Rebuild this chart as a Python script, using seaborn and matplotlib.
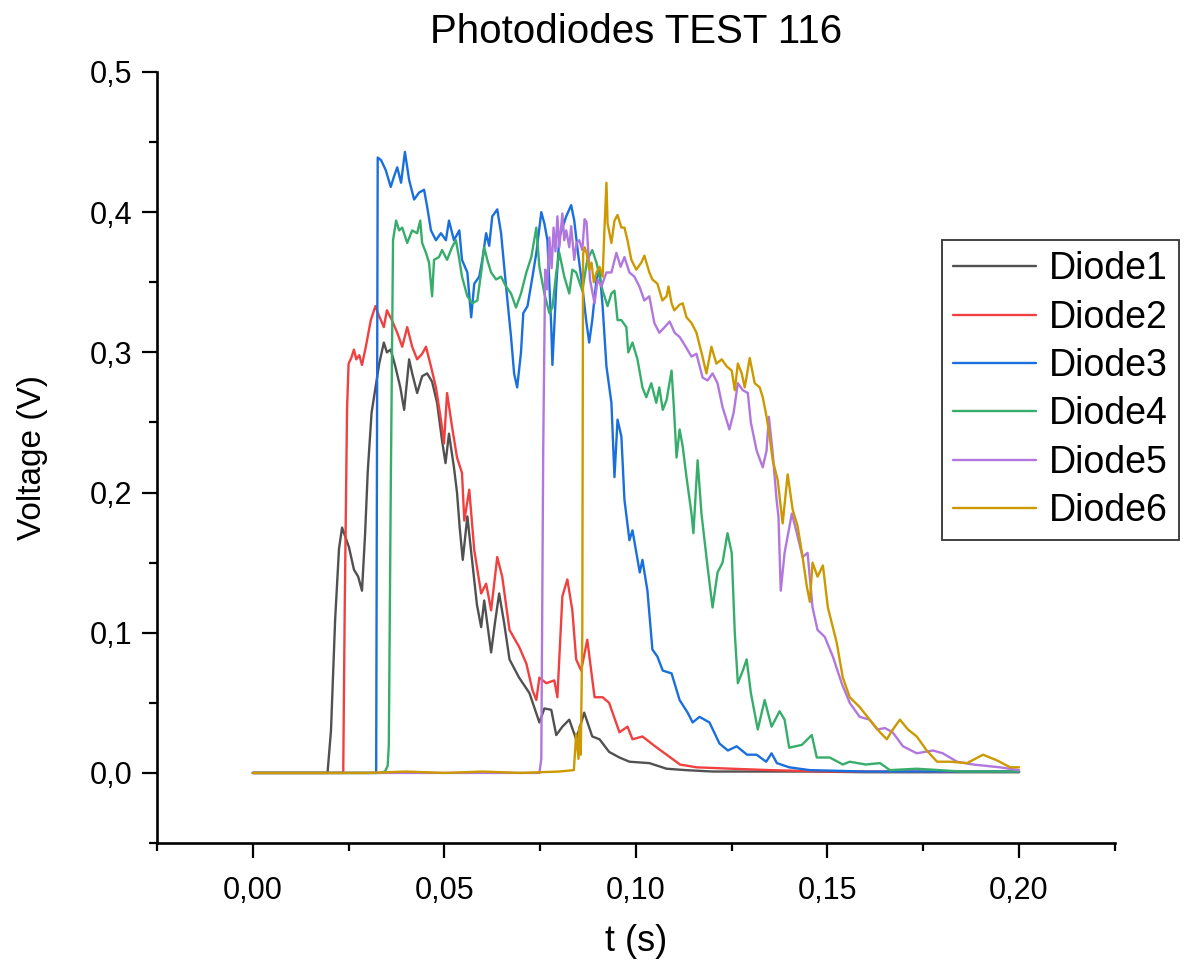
import numpy as np
import pandas as pd
import matplotlib
matplotlib.use("Agg")
import matplotlib.pyplot as plt
import seaborn as sns

# ---------------- data ----------------
t1 = [0.0, 0.0195, 0.0204, 0.0215, 0.0225, 0.0233, 0.0242, 0.0251, 0.0264, 0.0275, 0.0285,
      0.0293, 0.0300, 0.0310, 0.0322, 0.0330, 0.0342, 0.0350, 0.0360, 0.0372, 0.0385, 0.0395,
      0.0408, 0.0416, 0.0429, 0.0442, 0.0455, 0.0468, 0.0481, 0.0494, 0.0503, 0.0512, 0.0525,
      0.0533, 0.0540, 0.0548, 0.0560, 0.0573, 0.0585, 0.0596, 0.0604, 0.0622, 0.0632, 0.0643,
      0.0656, 0.0670, 0.0695, 0.0722, 0.0748, 0.0761, 0.0779, 0.0792, 0.0808, 0.0826, 0.0844,
      0.0865, 0.0886, 0.0905, 0.0930, 0.0957, 0.0983, 0.1035, 0.1080, 0.1130, 0.1200, 0.1300,
      0.1450, 0.1600, 0.1800, 0.2000]
v1 = [0.0, 0.0, 0.030, 0.110, 0.160, 0.175, 0.168, 0.161, 0.145, 0.140, 0.130,
      0.170, 0.215, 0.257, 0.278, 0.292, 0.307, 0.300, 0.302, 0.290, 0.275, 0.259,
      0.295, 0.285, 0.271, 0.283, 0.285, 0.279, 0.264, 0.237, 0.221, 0.242, 0.218,
      0.200, 0.175, 0.152, 0.183, 0.150, 0.120, 0.104, 0.123, 0.086, 0.107, 0.128,
      0.107, 0.081, 0.068, 0.057, 0.036, 0.046, 0.045, 0.027, 0.033, 0.038, 0.024,
      0.043, 0.026, 0.024, 0.015, 0.011, 0.008, 0.007, 0.003, 0.002, 0.001, 0.001,
      0.001, 0.0005, 0.0005, 0.0005]

t2 = [0.0, 0.0236, 0.0240, 0.0246, 0.0250, 0.0257, 0.0264, 0.0270, 0.0278, 0.0285, 0.0295,
      0.0308, 0.0320, 0.0328, 0.0342, 0.0350, 0.0363, 0.0377, 0.0390, 0.0403, 0.0416, 0.0429,
      0.0442, 0.0452, 0.0465, 0.0478, 0.0491, 0.0499, 0.0507, 0.0520, 0.0533, 0.0546, 0.0552,
      0.0565, 0.0578, 0.0596, 0.0609, 0.0622, 0.0638, 0.0651, 0.0670, 0.0695, 0.0714, 0.0730,
      0.0740, 0.0748, 0.0766, 0.0787, 0.0795, 0.0808, 0.0821, 0.0834, 0.0844, 0.0857, 0.0873,
      0.0892, 0.0913, 0.0930, 0.0957, 0.0978, 0.0991, 0.1017, 0.1050, 0.1080, 0.1115, 0.1158,
      0.1250, 0.1350, 0.1500, 0.1700, 0.2000]
v2 = [0.0, 0.0, 0.120, 0.260, 0.292, 0.296, 0.302, 0.295, 0.298, 0.291, 0.304,
      0.323, 0.333, 0.327, 0.318, 0.330, 0.323, 0.314, 0.304, 0.318, 0.304, 0.295,
      0.299, 0.304, 0.290, 0.275, 0.252, 0.235, 0.271, 0.247, 0.225, 0.214, 0.180,
      0.202, 0.159, 0.128, 0.135, 0.116, 0.154, 0.140, 0.102, 0.090, 0.078, 0.059,
      0.052, 0.068, 0.064, 0.066, 0.054, 0.126, 0.138, 0.116, 0.081, 0.073, 0.095,
      0.054, 0.054, 0.050, 0.029, 0.033, 0.024, 0.026, 0.019, 0.013, 0.006, 0.004,
      0.003, 0.002, 0.001, 0.001, 0.001]

t3 = [0.0, 0.0322, 0.0326, 0.0335, 0.0347, 0.0360, 0.0368, 0.0377, 0.0387, 0.0397, 0.0408,
      0.0421, 0.0434, 0.0447, 0.0455, 0.0465, 0.0478, 0.0491, 0.0504, 0.0512, 0.0525, 0.0539,
      0.0546, 0.0560, 0.0570, 0.0578, 0.0591, 0.0599, 0.0609, 0.0617, 0.0625, 0.0638, 0.0648,
      0.0661, 0.0674, 0.0682, 0.0690, 0.0700, 0.0706, 0.0717, 0.0730, 0.0740, 0.0753, 0.0761,
      0.0769, 0.0779, 0.0782, 0.0792, 0.0800, 0.0818, 0.0831, 0.0839, 0.0847, 0.0860, 0.0870,
      0.0878, 0.0886, 0.0897, 0.0905, 0.0913, 0.0923, 0.0936, 0.0944, 0.0952, 0.0962, 0.0970,
      0.0983, 0.0991, 0.1010, 0.1017, 0.1030, 0.1043, 0.1056, 0.1070, 0.1093, 0.1114, 0.1135,
      0.1148, 0.1166, 0.1192, 0.1218, 0.1240, 0.1263, 0.1290, 0.1315, 0.1340, 0.1354, 0.1368,
      0.1400, 0.1454, 0.1600, 0.1800, 0.2000]
v3 = [0.0, 0.0, 0.439, 0.437, 0.430, 0.418, 0.425, 0.432, 0.421, 0.443, 0.423,
      0.409, 0.414, 0.416, 0.404, 0.387, 0.380, 0.385, 0.380, 0.394, 0.380, 0.387,
      0.366, 0.357, 0.325, 0.349, 0.354, 0.366, 0.385, 0.376, 0.397, 0.402, 0.385,
      0.347, 0.311, 0.285, 0.275, 0.300, 0.328, 0.333, 0.354, 0.371, 0.400, 0.392,
      0.380, 0.318, 0.291, 0.347, 0.382, 0.397, 0.405, 0.394, 0.375, 0.347, 0.323,
      0.307, 0.323, 0.352, 0.359, 0.333, 0.290, 0.264, 0.211, 0.252, 0.240, 0.195,
      0.166, 0.173, 0.143, 0.152, 0.130, 0.088, 0.083, 0.073, 0.071, 0.052, 0.043,
      0.036, 0.040, 0.036, 0.021, 0.016, 0.019, 0.013, 0.013, 0.008, 0.014, 0.007,
      0.004, 0.002, 0.001, 0.001, 0.001]

t4 = [0.0, 0.0330, 0.0345, 0.0352, 0.0355, 0.0360, 0.0366, 0.0374, 0.0382, 0.0390, 0.0403,
      0.0416, 0.0429, 0.0437, 0.0442, 0.0452, 0.0460, 0.0468, 0.0473, 0.0486, 0.0494, 0.0507,
      0.0520, 0.0530, 0.0538, 0.0546, 0.0560, 0.0573, 0.0586, 0.0596, 0.0604, 0.0612, 0.0622,
      0.0635, 0.0648, 0.0661, 0.0674, 0.0687, 0.0700, 0.0714, 0.0727, 0.0740, 0.0748, 0.0761,
      0.0774, 0.0782, 0.0792, 0.0800, 0.0813, 0.0826, 0.0834, 0.0844, 0.0860, 0.0873, 0.0886,
      0.0897, 0.0905, 0.0913, 0.0926, 0.0936, 0.0944, 0.0952, 0.0962, 0.0975, 0.0980, 0.0991,
      0.1004, 0.1017, 0.1027, 0.1040, 0.1053, 0.1061, 0.1070, 0.1080, 0.1093, 0.1099, 0.1106,
      0.1114, 0.1122, 0.1132, 0.1145, 0.1150, 0.1161, 0.1171, 0.1187, 0.1200, 0.1213, 0.1226,
      0.1239, 0.1250, 0.1258, 0.1266, 0.1279, 0.1289, 0.1300, 0.1318, 0.1336, 0.1354, 0.1375,
      0.1388, 0.1400, 0.1433, 0.1459, 0.1472, 0.1506, 0.1540, 0.1558, 0.1600, 0.1637, 0.1663,
      0.1733, 0.1850, 0.2000]
v4 = [0.0, 0.0, 0.001, 0.005, 0.020, 0.200, 0.380, 0.394, 0.387, 0.389, 0.378,
      0.387, 0.385, 0.394, 0.378, 0.371, 0.364, 0.340, 0.366, 0.368, 0.373, 0.366,
      0.375, 0.380, 0.368, 0.354, 0.340, 0.335, 0.337, 0.357, 0.375, 0.366, 0.357,
      0.352, 0.354, 0.347, 0.342, 0.332, 0.342, 0.357, 0.368, 0.389, 0.361, 0.342,
      0.328, 0.332, 0.357, 0.371, 0.354, 0.342, 0.359, 0.357, 0.344, 0.366, 0.373,
      0.364, 0.354, 0.344, 0.333, 0.342, 0.344, 0.323, 0.323, 0.318, 0.300, 0.307,
      0.295, 0.275, 0.268, 0.278, 0.264, 0.275, 0.259, 0.266, 0.287, 0.261, 0.225,
      0.245, 0.233, 0.211, 0.185, 0.171, 0.223, 0.185, 0.147, 0.118, 0.143, 0.150,
      0.171, 0.157, 0.100, 0.064, 0.073, 0.081, 0.057, 0.031, 0.052, 0.033, 0.044,
      0.038, 0.018, 0.020, 0.027, 0.011, 0.011, 0.006, 0.008, 0.006, 0.007, 0.002,
      0.003, 0.001, 0.001]

t5 = [0.0, 0.0748, 0.0753, 0.0758, 0.0763, 0.0768, 0.0774, 0.0780, 0.0785, 0.0790, 0.0795,
      0.0800, 0.0808, 0.0813, 0.0818, 0.0826, 0.0831, 0.0839, 0.0845, 0.0852, 0.0860, 0.0866,
      0.0871, 0.0880, 0.0892, 0.0900, 0.0910, 0.0923, 0.0936, 0.0949, 0.0960, 0.0970, 0.0983,
      0.0996, 0.1009, 0.1022, 0.1035, 0.1048, 0.1061, 0.1075, 0.1088, 0.1101, 0.1114, 0.1130,
      0.1145, 0.1158, 0.1174, 0.1187, 0.1200, 0.1213, 0.1226, 0.1244, 0.1255, 0.1266, 0.1279,
      0.1292, 0.1300, 0.1315, 0.1331, 0.1341, 0.1347, 0.1357, 0.1367, 0.1372, 0.1378, 0.1388,
      0.1407, 0.1420, 0.1435, 0.1448, 0.1461, 0.1474, 0.1493, 0.1514, 0.1537, 0.1558, 0.1584,
      0.1610, 0.1630, 0.1650, 0.1670, 0.1697, 0.1733, 0.1775, 0.1801, 0.1838, 0.1880, 0.1950,
      0.2000]
v5 = [0.0, 0.0, 0.010, 0.230, 0.359, 0.345, 0.382, 0.360, 0.389, 0.372, 0.397,
      0.375, 0.399, 0.380, 0.387, 0.375, 0.390, 0.366, 0.378, 0.380, 0.373, 0.395,
      0.393, 0.352, 0.335, 0.352, 0.347, 0.357, 0.357, 0.371, 0.361, 0.368, 0.357,
      0.354, 0.347, 0.337, 0.340, 0.321, 0.314, 0.318, 0.322, 0.314, 0.311, 0.304,
      0.297, 0.299, 0.282, 0.280, 0.285, 0.278, 0.261, 0.245, 0.257, 0.278, 0.273,
      0.271, 0.250, 0.230, 0.218, 0.230, 0.254, 0.228, 0.195, 0.183, 0.130, 0.157,
      0.185, 0.171, 0.154, 0.157, 0.118, 0.102, 0.097, 0.083, 0.064, 0.050, 0.040,
      0.038, 0.031, 0.032, 0.029, 0.019, 0.014, 0.016, 0.014, 0.008, 0.006, 0.004,
      0.002]

t6 = [0.0, 0.0300, 0.0400, 0.0500, 0.0600, 0.0700, 0.0800, 0.0838, 0.0844, 0.0850, 0.0853,
      0.0856, 0.0860, 0.0862, 0.0866, 0.0871, 0.0878, 0.0884, 0.0890, 0.0897, 0.0905, 0.0913,
      0.0918, 0.0923, 0.0926, 0.0936, 0.0944, 0.0952, 0.0962, 0.0970, 0.0978, 0.0988, 0.1001,
      0.1014, 0.1022, 0.1035, 0.1043, 0.1056, 0.1069, 0.1080, 0.1085, 0.1093, 0.1100, 0.1114,
      0.1122, 0.1132, 0.1145, 0.1158, 0.1171, 0.1184, 0.1197, 0.1210, 0.1224, 0.1237, 0.1250,
      0.1258, 0.1266, 0.1276, 0.1284, 0.1297, 0.1310, 0.1323, 0.1331, 0.1341, 0.1349, 0.1357,
      0.1370, 0.1383, 0.1396, 0.1409, 0.1422, 0.1435, 0.1446, 0.1454, 0.1461, 0.1474, 0.1488,
      0.1501, 0.1524, 0.1540, 0.1558, 0.1584, 0.1610, 0.1637, 0.1655, 0.1668, 0.1689, 0.1710,
      0.1733, 0.1759, 0.1786, 0.1820, 0.1864, 0.1906, 0.1942, 0.1977, 0.2000]
v6 = [0.0, 0.0, 0.001, 0.0, 0.001, 0.0, 0.001, 0.002, 0.028, 0.010, 0.033,
      0.013, 0.100, 0.370, 0.375, 0.371, 0.359, 0.364, 0.350, 0.357, 0.361, 0.354,
      0.389, 0.421, 0.392, 0.378, 0.394, 0.398, 0.389, 0.389, 0.380, 0.366, 0.359,
      0.364, 0.369, 0.357, 0.352, 0.349, 0.337, 0.340, 0.347, 0.335, 0.330, 0.334,
      0.335, 0.325, 0.321, 0.314, 0.300, 0.285, 0.304, 0.292, 0.295, 0.290, 0.287,
      0.273, 0.292, 0.285, 0.275, 0.296, 0.278, 0.275, 0.268, 0.254, 0.240, 0.223,
      0.209, 0.178, 0.213, 0.188, 0.176, 0.154, 0.133, 0.122, 0.150, 0.140, 0.148,
      0.118, 0.093, 0.068, 0.054, 0.047, 0.038, 0.029, 0.024, 0.030, 0.038, 0.031,
      0.026, 0.016, 0.008, 0.008, 0.007, 0.013, 0.009, 0.004, 0.004]

names = ["Diode1", "Diode2", "Diode3", "Diode4", "Diode5", "Diode6"]
colors = ["#515151", "#F14040", "#1A6FDF", "#37AD6B", "#B177DE", "#CC9900"]

series = [(t1, v1), (t2, v2), (t3, v3), (t4, v4), (t5, v5), (t6, v6)]
frames = []
for name, (tt, vv) in zip(names, series):
    frames.append(pd.DataFrame({"t": tt, "v": vv, "diode": name}))
df = pd.concat(frames, ignore_index=True)

# ---------------- styling ----------------
sns.set_style("ticks")
plt.rcParams["font.family"] = ["Liberation Sans", "DejaVu Sans"]
plt.rcParams.update({"text.color": "black", "axes.labelcolor": "black",
                     "xtick.color": "black", "ytick.color": "black",
                     "axes.edgecolor": "black"})

fig = plt.figure(figsize=(11.86, 9.65), dpi=100)
ax = fig.add_axes([0.1324, 0.1264, 0.8076, 0.799])

sns.lineplot(data=df, x="t", y="v", hue="diode", hue_order=names,
             palette=dict(zip(names, colors)), sort=False, estimator=None,
             units="diode", linewidth=1.7, ax=ax, legend=True)

ax.set_xlim(-0.025, 0.225)
ax.set_ylim(-0.05, 0.5)
ax.set_xticks([0.0, 0.05, 0.10, 0.15, 0.20])
ax.set_xticklabels(["0,00", "0,05", "0,10", "0,15", "0,20"])
ax.set_xticks([-0.025, 0.025, 0.075, 0.125, 0.175, 0.225], minor=True)
ax.set_yticks([0.0, 0.1, 0.2, 0.3, 0.4, 0.5])
ax.set_yticklabels(["0,0", "0,1", "0,2", "0,3", "0,4", "0,5"])
ax.set_yticks([-0.05, 0.05, 0.15, 0.25, 0.35, 0.45], minor=True)

for side in ["top", "right"]:
    ax.spines[side].set_visible(False)
for side in ["left", "bottom"]:
    ax.spines[side].set_linewidth(1.9)
    ax.spines[side].set_color("black")

ax.tick_params(axis="both", which="major", direction="out", length=11, width=1.6,
               labelsize=22, colors="black")
ax.tick_params(axis="both", which="minor", direction="out", length=5.5, width=1.6, colors="black")
ax.tick_params(axis="x", which="major", pad=13)
ax.tick_params(axis="y", which="major", pad=7)

ax.set_xlabel("t (s)", fontsize=26, labelpad=13)
ax.set_ylabel("Voltage (V)", fontsize=24, labelpad=30)
ax.set_title("Photodiodes TEST 116", fontsize=29, pad=21, color="black")

handles, labels = ax.get_legend_handles_labels()
leg = ax.legend(handles, labels, loc="upper left",
                bbox_to_anchor=(942 / 1186, 1 - 240 / 965), bbox_transform=fig.transFigure,
                borderaxespad=0, fontsize=27, frameon=True, fancybox=False,
                handlelength=2.2, handletextpad=0.35, labelspacing=0.33,
                borderpad=0.3)
leg.get_frame().set_edgecolor("black")
leg.get_frame().set_linewidth(1.3)
for line in leg.get_lines():
    line.set_linewidth(1.7)

fig.savefig("out.png", dpi=100)
